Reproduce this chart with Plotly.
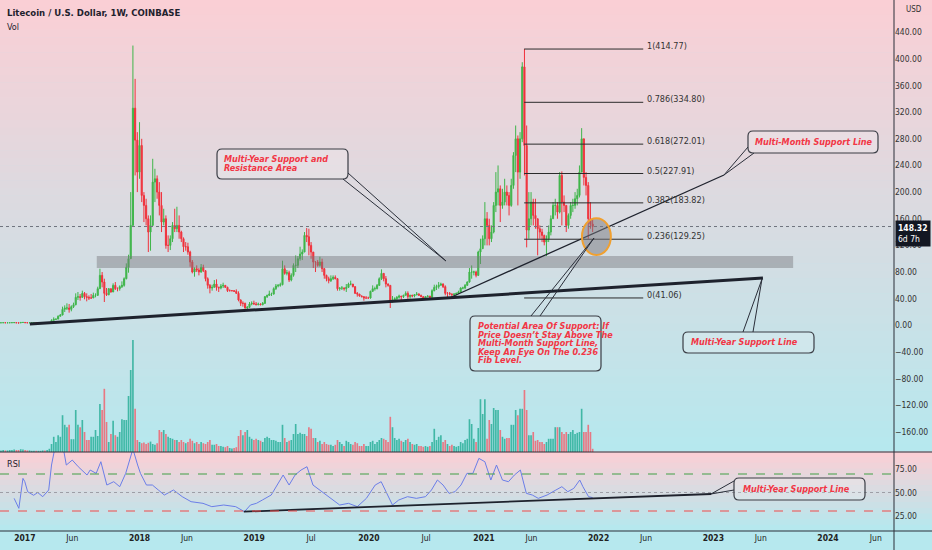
import pandas as pd
import plotly.graph_objects as go
from plotly.subplots import make_subplots

# ---- weekly LTC/USD candles (Coinbase), weeks starting Monday, last = 2021-12-13
closes_2016 = [3.85, 3.95, 3.8, 3.85, 3.9, 4.0, 4.1, 3.7, 3.5, 4.3, 4.3]
highs_2016 = [3.95, 4.0, 4.0, 3.95, 4.0, 4.1, 4.3, 4.1, 3.8, 4.6, 4.6]
lows_2016 = [3.75, 3.8, 3.7, 3.7, 3.8, 3.85, 3.9, 3.6, 3.4, 3.5, 4.1]

closes_2017 = [3.9, 3.8, 3.9, 3.9, 3.9, 3.8, 3.8, 3.8, 3.9, 3.8, 4.0, 4.2, 7.5,
               9.0, 9.3, 13.5, 15.5, 24, 26, 26, 24, 28, 31, 42, 43, 42,
               48, 43, 42, 41, 41, 45, 45, 55, 75, 65, 48, 46, 55,
               50, 60, 55, 55, 58, 60, 70, 87, 100, 150, 326, 278, 230]
highs_2017 = [4.5, 4.0, 4.0, 4.0, 4.0, 3.9, 3.9, 3.9, 4.0, 4.0, 4.1, 4.4, 9.0,
              12, 10, 15, 17, 28, 30, 33, 32, 30, 34, 48, 50, 47,
              52, 50, 48, 45, 47, 49, 48, 58, 85, 80, 70, 56, 56,
              55, 63, 65, 57, 60, 66, 72, 93, 106, 200, 420, 370, 290]
lows_2017 = [3.6, 3.5, 3.7, 3.8, 3.8, 3.7, 3.7, 3.7, 3.7, 3.6, 3.6, 3.9, 4.2,
             7.2, 8.5, 9.3, 13.5, 15, 20, 23, 19, 21, 26, 30, 38, 37,
             41, 39, 36, 38, 40, 41, 42, 44, 55, 57, 35, 44, 45,
             49, 50, 53, 51, 52, 56, 58, 69, 79, 100, 150, 225, 200]

closes_2018 = [270, 195, 180, 160, 140, 150, 215, 220, 200, 180, 155, 160, 120,
               120, 130, 150, 145, 150, 140, 130, 118, 118, 110, 95, 80, 85,
               83, 80, 87, 82, 70, 60, 56, 57, 62, 57, 56, 59, 60,
               57, 52, 52, 52, 51, 48, 38, 33, 33, 26, 27, 32, 33, 32]
highs_2018 = [305, 280, 200, 190, 165, 165, 250, 235, 225, 215, 200, 175, 165,
              135, 135, 155, 175, 178, 165, 142, 132, 125, 124, 112, 98, 87,
              90, 86, 92, 91, 83, 72, 62, 61, 68, 69, 58, 62, 64,
              60, 58, 54, 53, 53, 54, 51, 39, 36, 34, 29, 35, 36, 37]
lows_2018 = [220, 185, 155, 150, 110, 112, 150, 185, 190, 165, 140, 150, 115,
             110, 113, 125, 140, 140, 130, 125, 110, 112, 106, 88, 78, 73,
             80, 75, 79, 80, 66, 55, 48, 52, 57, 52, 50, 54, 56,
             56, 50, 51, 51, 50, 47, 36, 29, 28, 25, 23, 26, 30, 31]

closes_2019 = [31, 32, 31, 33, 43, 45, 47, 47, 55, 59, 60, 61,
               85, 78, 79, 68, 75, 90, 90, 100, 107, 110, 135, 133, 120,
               110, 95, 95, 90, 95, 85, 75, 70, 67, 70, 72, 70, 55, 56,
               56, 55, 57, 62, 62, 58, 48, 47, 44, 43, 41, 41, 41]
highs_2019 = [35, 34, 33, 35, 44, 46, 52, 49, 57, 62, 62, 64,
              97, 90, 83, 82, 78, 93, 105, 104, 118, 114, 140, 146, 145,
              125, 110, 96, 98, 103, 100, 86, 76, 73, 75, 75, 75, 71, 57,
              59, 57, 62, 64, 67, 62, 59, 50, 47, 45, 44, 44, 43]
lows_2019 = [30, 30, 30, 30, 32, 41, 44, 44, 46, 53, 57, 58,
             60, 76, 75, 65, 66, 73, 80, 86, 97, 98, 110, 125, 105,
             100, 86, 80, 88, 88, 80, 70, 66, 63, 65, 68, 69, 52, 52,
             53, 52, 50, 56, 60, 57, 47, 43, 43, 42, 37, 40, 40]

closes_2020 = [51, 55, 55, 60, 70, 78, 70, 62, 60, 37, 38, 40, 42,
               44, 43, 45, 48, 43, 45, 44, 46, 47, 45, 43, 41, 43,
               44, 42, 52, 57, 58, 60, 62, 58, 48, 48, 47, 46, 47,
               48, 50, 56, 56, 60, 65, 80, 80, 80, 75, 110, 115, 130]
highs_2020 = [52, 60, 58, 62, 72, 84, 78, 74, 63, 60, 44, 42, 44,
              46, 44, 46, 51, 51, 46, 46, 47, 50, 48, 46, 44, 44,
              45, 44, 54, 61, 61, 65, 64, 63, 60, 50, 50, 48, 48,
              49, 52, 57, 58, 62, 66, 86, 90, 82, 82, 112, 130, 135]
lows_2020 = [40, 50, 52, 54, 59, 68, 66, 57, 58, 26, 34, 36, 37,
             40, 38, 41, 45, 38, 40, 42, 42, 45, 44, 42, 40, 40,
             42, 41, 42, 51, 53, 55, 60, 56, 45, 41.06, 45, 42, 44,
             45, 47, 49, 54, 54, 59, 64, 70, 75, 72, 74, 92, 115]

closes_2021 = [160, 150, 130, 140, 180, 200, 205, 180, 185, 200, 195, 180, 210,
               255, 280, 230, 280, 388, 270, 143, 160, 185, 165, 160, 145, 140,
               135, 125, 130, 140, 160, 180, 180, 170, 225, 185, 180, 150, 165,
               180, 180, 190, 195, 230, 280, 222, 210, 160, 152, 148.32]
highs_2021 = [185, 170, 160, 150, 185, 230, 240, 210, 205, 220, 210, 200, 220,
              260, 300, 285, 290, 395, 414.77, 300, 200, 200, 190, 190, 160, 150,
              145, 136, 135, 150, 165, 185, 190, 185, 230, 231, 195, 180, 168,
              185, 190, 200, 205, 240, 296, 280, 230, 215, 185, 160]
lows_2021 = [120, 120, 120, 125, 138, 170, 180, 155, 175, 180, 180, 165, 178,
             205, 230, 180, 220, 275, 225, 117, 130, 150, 150, 145, 105, 130,
             125, 120, 104, 125, 135, 160, 165, 160, 168, 150, 170, 140, 145,
             160, 170, 175, 180, 192, 230, 210, 195, 130, 145, 140]

vol_2016 = [0.4, 0.5, 0.4, 0.4, 0.5, 0.5, 0.6, 0.5, 0.5, 0.7, 0.6]
vol_2017 = [0.5, 0.4, 0.4, 0.3, 0.3, 0.3, 0.3, 0.3, 0.4, 0.4, 0.5, 0.8, 2.0,
            3.8, 2.5, 4.2, 3.8, 9.2, 6.8, 6.2, 6.8, 3.2, 3.2, 10.5, 6.8, 6.2,
            8.0, 5.0, 3.0, 3.0, 3.8, 3.8, 5.5, 4.0, 12.0, 10.5, 15.8, 7.5, 2.5,
            4.5, 7.8, 4.2, 3.8, 5.0, 8.2, 8.0, 8.0, 14.0, 20.5, 28.0, 10.8, 3.0]
vol_2018 = [2.5, 2.2, 2.4, 2.0, 2.3, 2.6, 2.0, 1.8, 2.2, 5.5, 5.0, 5.5, 4.5,
            3.8, 3.5, 3.3, 3.0, 3.0, 2.5, 3.0, 2.5, 2.2, 2.5, 3.3, 2.8, 2.2,
            2.5, 2.0, 2.5, 2.2, 2.0, 2.5, 3.0, 1.8, 1.8, 2.0, 1.5, 1.5, 1.3,
            1.2, 1.5, 1.0, 0.9, 1.0, 1.2, 4.0, 5.5, 4.2, 5.0, 5.5, 3.8, 3.3, 3.0]
vol_2019 = [3.3, 3.0, 2.8, 2.5, 3.5, 3.8, 3.5, 3.0, 3.0, 2.8, 2.5, 2.5,
            6.8, 3.5, 2.5, 2.8, 3.0, 4.5, 7.0, 4.5, 4.8, 4.5, 4.5, 4.0, 6.2,
            5.8, 3.5, 3.5, 2.5, 2.8, 2.0, 2.5, 2.0, 1.8, 1.8, 1.5, 1.8, 3.0, 2.5,
            2.0, 1.5, 2.8, 2.5, 2.0, 1.8, 2.5, 2.2, 1.5, 1.5, 2.0, 1.5, 1.5]
vol_2020 = [2.5, 2.8, 2.0, 2.5, 3.0, 3.5, 3.3, 3.0, 2.5, 8.8, 6.2, 3.5, 3.0,
            3.3, 2.8, 2.5, 3.0, 3.3, 2.5, 2.0, 1.8, 2.0, 1.5, 1.5, 1.3, 1.5,
            1.3, 1.5, 2.5, 5.8, 3.0, 3.8, 4.2, 2.5, 3.0, 2.0, 1.5, 1.8, 1.5,
            1.3, 1.5, 2.5, 2.2, 3.0, 3.3, 8.2, 7.0, 3.3, 2.5, 6.0, 13.2, 9.5]
vol_2021 = [13.2, 3.3, 8.0, 7.0, 11.0, 10.5, 10.5, 5.5, 3.8, 3.3, 3.5, 3.5, 6.8,
            6.8, 10.5, 9.2, 10.8, 10.8, 15.5, 10.5, 4.2, 4.2, 5.0, 2.8, 3.0, 2.5,
            2.5, 2.0, 2.5, 3.3, 3.3, 3.3, 6.2, 6.2, 6.2, 5.0, 4.5, 5.0, 4.5,
            5.0, 5.5, 4.5, 4.8, 5.0, 10.8, 5.0, 5.0, 6.8, 5.0, 0.8]

closes = closes_2016 + closes_2017 + closes_2018 + closes_2019 + closes_2020 + closes_2021
highs = highs_2016 + highs_2017 + highs_2018 + highs_2019 + highs_2020 + highs_2021
lows = lows_2016 + lows_2017 + lows_2018 + lows_2019 + lows_2020 + lows_2021
volumes = vol_2016 + vol_2017 + vol_2018 + vol_2019 + vol_2020 + vol_2021
opens = [3.8] + closes[:-1]  # weekly open = prior weekly close
dates = pd.date_range(end="2021-12-13", periods=len(closes), freq="W-MON")

# ---- weekly RSI(14)
rsi_dates = ["2016-11-28", "2016-12-13", "2016-12-26", "2017-01-01", "2017-01-10", "2017-01-29",
             "2017-02-11", "2017-02-27", "2017-03-18", "2017-03-27", "2017-04-06", "2017-04-24",
             "2017-05-04", "2017-05-13", "2017-06-01", "2017-06-20", "2017-07-18", "2017-07-28",
             "2017-08-16", "2017-08-31", "2017-09-19", "2017-10-11", "2017-10-30", "2017-11-18",
             "2017-12-11", "2017-12-26", "2018-01-04", "2018-01-23", "2018-02-11", "2018-03-02",
             "2018-03-21", "2018-04-19", "2018-05-17", "2018-06-14", "2018-07-22", "2018-08-19",
             "2018-09-26", "2018-11-03", "2018-12-01", "2018-12-20", "2019-01-08", "2019-01-27",
             "2019-02-24", "2019-03-15", "2019-04-03", "2019-04-22", "2019-05-11", "2019-05-30",
             "2019-06-18", "2019-07-07", "2019-08-04", "2019-09-01", "2019-09-30", "2019-10-28",
             "2019-11-25", "2019-12-24", "2020-01-21", "2020-02-09", "2020-03-16", "2020-04-05",
             "2020-05-03", "2020-05-31", "2020-06-29", "2020-07-18", "2020-08-06", "2020-08-24",
             "2020-09-12", "2020-10-01", "2020-10-20", "2020-11-08", "2020-11-27", "2020-12-16",
             "2021-01-04", "2021-01-23", "2021-02-10", "2021-03-01", "2021-03-20", "2021-04-08",
             "2021-04-27", "2021-05-16", "2021-06-04", "2021-06-23", "2021-07-21", "2021-08-18",
             "2021-09-06", "2021-09-25", "2021-10-14", "2021-11-02", "2021-11-12", "2021-11-30",
             "2021-12-13"]
rsi_vals = [43.7, 32.9, 65.3, 61.7, 50.9, 47.0, 50.0, 45.5, 52.7, 79.7, 97, 97,
            97, 79.7, 85.1, 77.9, 68.9, 74.3, 70.7, 83.3, 58.1, 61.7, 56.3, 70.7,
            97, 79.7, 70.7, 58.1, 58.1, 52.7, 47.3, 52.7, 45.5, 40.1, 38.3, 34.7,
            36.5, 34.7, 29.3, 36.5, 38.3, 41.9, 47.3, 58.1, 68.9, 58.1, 68.9, 74.3,
            77.9, 58.1, 50.9, 43.7, 36.5, 38.3, 34.7, 43.7, 58.1, 61.7, 36.5, 41.9,
            45.5, 43.7, 45.5, 52.7, 63.5, 58.1, 49.1, 50.9, 58.1, 70.7, 70.7, 86.9,
            83.3, 63.5, 79.7, 63.5, 61.7, 68.9, 74.3, 49.1, 47.3, 43.7, 47.3, 52.7,
            56.3, 50.9, 54.5, 63.5, 56.3, 45.5, 44.5]

# ---- fib retracement drawn from the May 2021 high
fib_ratios = ["1", "0.786", "0.618", "0.5", "0.382", "0.236", "0"]
fib_prices = [414.77, 334.80, 272.01, 227.91, 183.82, 129.25, 41.06]
last_price = 148.32

price_ticks = [440, 400, 360, 320, 280, 240, 200, 160, 120, 80, 40, 0, -40, -80, -120, -160]
rsi_ticks = [25, 50, 75]
x_tick_dates = ["2017-01-01", "2017-06-01", "2018-01-01", "2018-06-01", "2019-01-01", "2019-07-01",
                "2020-01-01", "2020-07-01", "2021-01-01", "2021-06-01", "2022-01-01", "2022-06-01",
                "2023-01-01", "2023-06-01", "2024-01-01", "2024-06-01"]
x_tick_text = ["2017", "Jun", "2018", "Jun", "2019", "Jul", "2020", "Jul", "2021", "Jun",
               "2022", "Jun", "2023", "Jun", "2024", "Jun"]

UP = "#3fb54a"
DN = "#f0323c"
VOL_UP = "rgba(34,171,148,0.8)"
VOL_DN = "rgba(247,82,95,0.75)"
RED_TXT = "#f23645"
INK = "#1e222d"
NARROW = "Liberation Sans Narrow, DejaVu Sans Condensed, sans-serif"

W, H = 932, 550
PW, PH = 894, 531          # plot area in pixels
SPLIT = 452                # pixel row where the RSI pane starts


def px(x):
    return x / PW


def py(y):
    return (PH - y) / PH


fig = make_subplots(rows=2, cols=1, shared_xaxes=True, vertical_spacing=0,
                    row_heights=[SPLIT, PH - SPLIT])

fig.add_trace(go.Candlestick(
    x=dates, open=opens, high=highs, low=lows, close=closes,
    increasing=dict(line=dict(color=UP, width=1), fillcolor=UP),
    decreasing=dict(line=dict(color=DN, width=1), fillcolor=DN),
    whiskerwidth=0, showlegend=False, hoverinfo="skip"), row=1, col=1)

vol_colors = [VOL_UP if c >= o else VOL_DN for o, c in zip(opens, closes)]
fig.add_trace(go.Bar(x=dates, y=volumes, marker=dict(color=vol_colors, line=dict(width=0)),
                     yaxis="y3", xaxis="x", showlegend=False, hoverinfo="skip"))

fig.add_trace(go.Scatter(x=rsi_dates, y=rsi_vals, mode="lines",
                         line=dict(color="#6b7ee8", width=1), showlegend=False,
                         hoverinfo="skip"), row=2, col=1)

shapes = []

# background: pink-to-cyan gradient in each pane
top_c = (250, 207, 213)
bot_c = (182, 232, 238)


def mix(t):
    return "rgb(%d,%d,%d)" % tuple(round(a + (b - a) * t) for a, b in zip(top_c, bot_c))


n_main, n_rsi = 60, 14
for k in range(n_main):
    y0 = SPLIT * k / n_main
    y1 = SPLIT * (k + 1) / n_main
    shapes.append(dict(type="rect", xref="paper", yref="paper", x0=0, x1=W / PW,
                       y0=py(y1), y1=py(y0) + 0.001, fillcolor=mix(k / (n_main - 1)),
                       line=dict(width=0), layer="below"))
for k in range(n_rsi):
    y0 = SPLIT + (PH - SPLIT) * k / n_rsi
    y1 = SPLIT + (PH - SPLIT) * (k + 1) / n_rsi
    shapes.append(dict(type="rect", xref="paper", yref="paper", x0=0, x1=W / PW,
                       y0=py(y1), y1=py(y0) + 0.001, fillcolor=mix(k / (n_rsi - 1)),
                       line=dict(width=0), layer="below"))

# pane separators
for yy in (SPLIT, PH):
    shapes.append(dict(type="line", xref="paper", yref="paper", x0=0, x1=W / PW,
                       y0=py(yy), y1=py(yy), line=dict(color="#2a2e39", width=1)))
shapes.append(dict(type="line", xref="paper", yref="paper", x0=1, x1=1, y0=py(H), y1=1,
                   line=dict(color="#2a2e39", width=1)))

# last price dotted line
shapes.append(dict(type="line", xref="paper", yref="y", x0=0, x1=1, y0=last_price, y1=last_price,
                   line=dict(color="#6f737d", width=1, dash="dot")))

# multi-year support / resistance zone
shapes.append(dict(type="rect", xref="x", yref="y", x0="2017-08-18", x1="2023-09-12",
                   y0=86, y1=104, fillcolor="rgba(120,120,125,0.45)", line=dict(width=0)))

# trend lines
shapes.append(dict(type="line", xref="x", yref="y", x0="2017-01-17", y0=2.0,
                   x1="2023-06-08", y1=71.0, line=dict(color=INK, width=3)))
shapes.append(dict(type="line", xref="x", yref="y", x0="2020-09-20", y0=42.5,
                   x1="2023-02-04", y1=225.7, line=dict(color=INK, width=1.3)))
shapes.append(dict(type="line", xref="x2", yref="y2", x0="2018-11-29", y0=29.3,
                   x1="2022-12-25", y1=48.4, line=dict(color=INK, width=1.8)))

# fib levels
for p in fib_prices:
    shapes.append(dict(type="line", xref="x", yref="y", x0="2021-05-09", x1="2022-05-23",
                       y0=p, y1=p, line=dict(color="#2b2b2b", width=1)))

# circled area on the 0.236 level
shapes.append(dict(type="circle", xref="x", yref="y", x0="2021-11-09", x1="2022-02-09",
                   y0=105.6, y1=160.7, fillcolor="rgba(120,120,125,0.5)",
                   line=dict(color="#f0a030", width=2)))

# RSI bands
for lvl, col, dash in ((70, "#43a047", "dash"), (50, "#9e9ea6", "dot"), (30, "#ef4b4b", "dash")):
    shapes.append(dict(type="line", xref="paper", yref="y2", x0=0, x1=1, y0=lvl, y1=lvl,
                       line=dict(color=col, width=1.2, dash=dash)))


def rounded_box(x0, y0, x1, y1, r=5):
    pts = [("M", x0 + r, y0), ("L", x1 - r, y0), ("Q", x1, y0, x1, y0 + r), ("L", x1, y1 - r),
           ("Q", x1, y1, x1 - r, y1), ("L", x0 + r, y1), ("Q", x0, y1, x0, y1 - r),
           ("L", x0, y0 + r), ("Q", x0, y0, x0 + r, y0)]
    out = []
    for cmd, *c in pts:
        coords = " ".join("%.5f,%.5f" % (px(c[i]), py(c[i + 1])) for i in range(0, len(c), 2))
        out.append(cmd + " " + coords)
    return " ".join(out) + " Z"


callouts = [
    dict(box=(217, 149, 348, 179), tx=222, ty=[159, 168],
         lines=["Multi-Year Support and", "Resistance Area"],
         tail=[(343, 179), (446, 261), (348, 173)]),
    dict(box=(748, 131, 878, 153), tx=753, ty=[142],
         lines=["Multi-Month Support Line"],
         tail=[(748, 147), (724, 175), (754, 153)]),
    dict(box=(470, 316, 601, 371), tx=476, ty=[326, 334.5, 343, 351.5, 360],
         lines=["Potential Area Of Support: If", "Price Doesn’t Stay Above The",
                "Multi-Month Support Line,", "Keep An Eye On The 0.236", "Fib Level."],
         tail=[(531, 316), (594, 238), (540, 316)]),
    dict(box=(683, 332, 814, 353), tx=689, ty=[342],
         lines=["Multi-Year Support Line"],
         tail=[(743, 332), (762, 279), (753, 332)]),
    dict(box=(734, 478, 865, 500), tx=741, ty=[489],
         lines=["Multi-Year Support Line"],
         tail=[(734, 481), (711, 494), (734, 490)]),
]

annotations = []
for c in callouts:
    shapes.append(dict(type="path", xref="paper", yref="paper", path=rounded_box(*c["box"]),
                       fillcolor="rgba(255,255,255,0.18)", line=dict(color="#3a3d45", width=1.2)))
    t = c["tail"]
    shapes.append(dict(type="path", xref="paper", yref="paper",
                       path="M %.5f,%.5f L %.5f,%.5f L %.5f,%.5f" % (
                           px(t[0][0]), py(t[0][1]), px(t[1][0]), py(t[1][1]),
                           px(t[2][0]), py(t[2][1])),
                       line=dict(color="#2a2e39", width=1)))
    for line_txt, yy in zip(c["lines"], c["ty"]):
        annotations.append(dict(xref="paper", yref="paper", x=px(c["tx"]), y=py(yy),
                                xanchor="left", yanchor="middle", showarrow=False,
                                text="<b><i>%s</i></b>" % line_txt,
                                font=dict(family=NARROW, size=9, color=RED_TXT)))

for ratio, p in zip(fib_ratios, fib_prices):
    annotations.append(dict(xref="x", yref="y", x="2022-05-29", y=p, xanchor="left",
                            yanchor="middle", yshift=3, showarrow=False,
                            text="%s(%.2f)" % (ratio, p),
                            font=dict(family=NARROW, size=9, color="#333")))

annotations += [
    dict(xref="paper", yref="paper", x=px(5), y=py(12), xanchor="left", yanchor="middle",
         showarrow=False, text="<b>Litecoin / U.S. Dollar, 1W, COINBASE</b>",
         font=dict(family=NARROW, size=9.5, color=INK)),
    dict(xref="paper", yref="paper", x=px(5), y=py(27), xanchor="left", yanchor="middle",
         showarrow=False, text="Vol", font=dict(family=NARROW, size=9, color=INK)),
    dict(xref="paper", yref="paper", x=px(5), y=py(464), xanchor="left", yanchor="middle",
         showarrow=False, text="RSI", font=dict(family=NARROW, size=9, color=INK)),
    dict(xref="paper", yref="paper", x=px(904), y=py(10), xanchor="left", yanchor="middle",
         showarrow=False, text="USD", font=dict(family=NARROW, size=8, color="#333")),
    dict(xref="paper", yref="y", x=1, y=last_price, xanchor="left", yanchor="top", yshift=7,
         xshift=1, showarrow=False, text="<b>148.32</b><br>6d 7h", align="left",
         bgcolor="#131722", borderpad=2,
         font=dict(family=NARROW, size=8.5, color="white")),
]

fig.update_layout(
    width=W, height=H,
    margin=dict(l=0, r=W - PW, t=0, b=H - PH),
    paper_bgcolor="rgb(182,232,238)",
    plot_bgcolor="rgba(0,0,0,0)",
    showlegend=False,
    shapes=shapes,
    annotations=annotations,
    bargap=0.25,
    font=dict(family=NARROW, size=8.5, color="#333"),
    yaxis=dict(domain=[(PH - SPLIT) / PH, 1], side="right", range=[-190.2, 488.4],
               tickvals=price_ticks, tickformat=".2f", showgrid=False, zeroline=False,
               ticks="", tickfont=dict(size=8.5, color="#333")),
    yaxis2=dict(domain=[0, (PH - SPLIT) / PH], side="right", range=[8.4, 93.8],
                tickvals=rsi_ticks, tickformat=".2f", showgrid=False, zeroline=False,
                ticks="", tickfont=dict(size=8.5, color="#333")),
    yaxis3=dict(overlaying="y", anchor="x", range=[0, 113], visible=False),
)

fig.update_xaxes(range=["2016-10-14", "2024-07-29"], showgrid=False, zeroline=False,
                 rangeslider_visible=False, ticks="")
fig.update_xaxes(showticklabels=False, row=1, col=1)
fig.update_xaxes(tickvals=x_tick_dates,
                 ticktext=[("<b>%s</b>" % t) if t.isdigit() else t for t in x_tick_text],
                 tickfont=dict(size=8.5, color="#222"), row=2, col=1)

# the page body has a default 8px margin; drop it so the chart fills the window
fig.write_html("out.html", config={"displayModeBar": False},
               post_script="document.body.style.margin='0';"
                           "document.body.style.overflow='hidden';")
